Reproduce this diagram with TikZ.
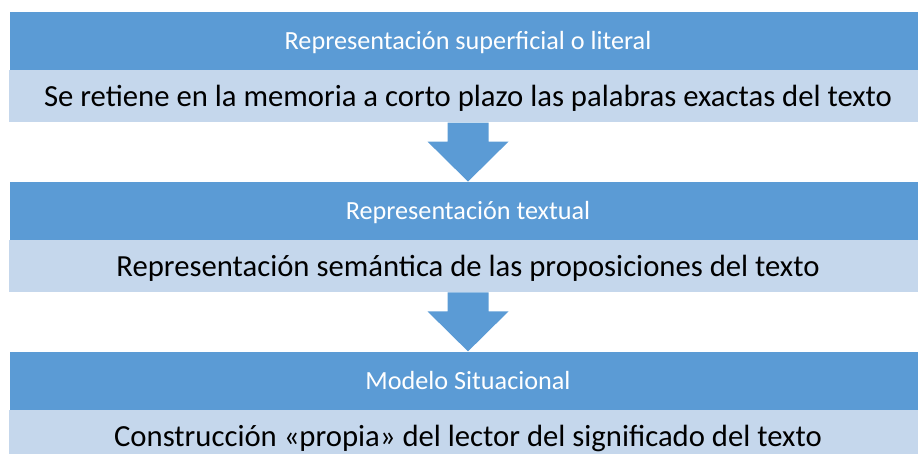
\documentclass[tikz,border=0pt]{standalone}
\usepackage{fontspec}
\setmainfont{Carlito}
\usepackage{tikz}
\usetikzlibrary{positioning, calc}
\definecolor{headblue}{RGB}{91, 155, 213}
\definecolor{bodyblue}{RGB}{197, 215, 236}

\begin{document}
\begin{tikzpicture}[
    x=1pt, y=1pt,
    header/.style={fill=headblue, text=white, minimum width=916pt, minimum height=58pt, inner sep=0pt, text height=17pt, text depth=0pt, font=\fontsize{26.2}{30}\selectfont},
    body/.style={fill=bodyblue, text=black, minimum width=919pt, minimum height=52pt, inner sep=0pt, text height=20pt, text depth=0pt, font=\fontsize{30.7}{36}\selectfont},
    blockarrow/.style={fill=headblue}
]
    \useasboundingbox (0,0) rectangle (918,-454);

    % Nodes - first level
    \node[header] (head1) at (468,-41) {Representación superficial o literal};
    \node[body, below=0pt of head1] (body1) {Se retiene en la memoria a corto plazo las palabras exactas del texto};

    % Nodes - second level
    \node[header, below=59pt of body1] (head2) {Representación textual};
    \node[body, below=0pt of head2] (body2) {Representación semántica de las proposiciones del texto};

    % Nodes - third level
    \node[header, below=59pt of body2] (head3) {Modelo Situacional};
    \node[body, below=0pt of head3] (body3) {Construcción «propia» del lector del significado del texto};

    % Arrows
    \fill[blockarrow] ([xshift=-20.5pt]body1.south) -- ([xshift=20.5pt]body1.south) -- ++(0,-19) -- ++(20,0)
        -- (head2.north) -- ([xshift=-40.5pt, yshift=40pt]head2.north) -- ++(20,0) -- cycle;
    \fill[blockarrow] ([xshift=-20.5pt]body2.south) -- ([xshift=20.5pt]body2.south) -- ++(0,-19) -- ++(20,0)
        -- (head3.north) -- ([xshift=-40.5pt, yshift=40pt]head3.north) -- ++(20,0) -- cycle;
\end{tikzpicture}
\end{document}
